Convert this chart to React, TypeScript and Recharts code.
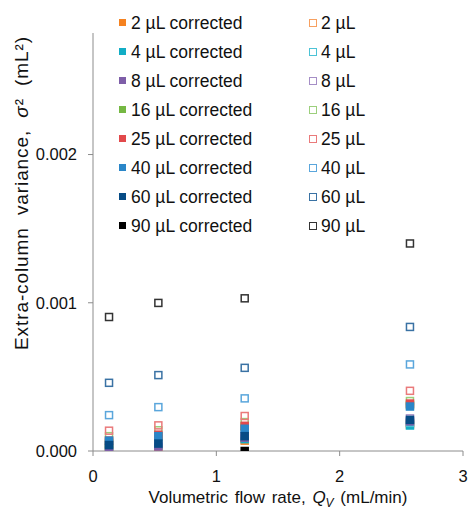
import React from "react";
import { ScatterChart, Scatter, XAxis, YAxis } from "recharts";

// Flow rates (mL/min) at which each injection volume was measured
const flowRates = [0.13, 0.53, 1.23, 2.57];

// Measured extra-column variance (mL²), uncorrected
const v2 = [0.00002, 0.00004, 0.00008, 0.00019];
const v4 = [0.00004, 0.00006, 0.0001, 0.00019];
const v8 = [0.00006, 0.00008, 0.00012, 0.00022];
const v16 = [0.0001, 0.00014, 0.000195, 0.000337];
const v25 = [0.000137, 0.000173, 0.000236, 0.000406];
const v40 = [0.000242, 0.000296, 0.000355, 0.000584];
const v60 = [0.00046, 0.000512, 0.000561, 0.000837];
const v90 = [0.000904, 0.000999, 0.00103, 0.0014];

// Corrected variance (mL²)
const c2 = [0.0, 0.00003, 0.00007, 0.00018];
const c4 = [0.00001, 0.00004, 0.00008, 0.000172];
const c8 = [0.00002, 0.00003, 0.00009, 0.0002];
const c16 = [0.00005, 0.0001, 0.000165, 0.00031];
const c25 = [0.00007, 0.00011, 0.00017, 0.00032];
const c40 = [0.00007, 0.0001, 0.00015, 0.0003];
const c60 = [0.00004, 0.00005, 0.0001, 0.00021];
const c90 = [null, null, 0.0, null];

const volumes = ["2", "4", "8", "16", "25", "40", "60", "90"];
const corrected = [c2, c4, c8, c16, c25, c40, c60, c90];
const measured = [v2, v4, v8, v16, v25, v40, v60, v90];
const fillColors = ["#f58220", "#12adc5", "#7e5ea8", "#75b843", "#e2494b", "#2a86c8", "#064b85", "#000000"];
const strokeColors = ["#f7a060", "#4cc3d6", "#a58ec6", "#9ccf7c", "#ea7a7b", "#5aa6dc", "#3a72a4", "#333333"];

const xTicks = [0, 1, 2, 3];
const yTicks = [0, 0.001, 0.002];

const toPoints = (vals: (number | null)[]) =>
  flowRates
    .map((x, i) => ({ x, y: vals[i] }))
    .filter((p) => p.y !== null);

const FONT = "'Liberation Sans', Arial, sans-serif";

const filledSquare = (color: string) => (props: any) => {
  const { cx, cy } = props;
  return <rect x={cx - 4.25} y={cy - 4.25} width={8.5} height={8.5} fill={color} />;
};

const openSquare = (color: string) => (props: any) => {
  const { cx, cy } = props;
  return (
    <rect x={cx - 3.5} y={cy - 3.5} width={7} height={7} fill="none" stroke={color} strokeWidth={1.5} />
  );
};

// Two-column key: corrected series on the left, raw series on the right
const LegendGrid = () => (
  <div
    style={{
      position: "absolute",
      left: 0,
      top: 0,
      width: 469,
      height: 240,
      fontFamily: FONT,
      fontSize: 17.5,
      color: "#111",
      pointerEvents: "none",
    }}
  >
    {volumes.map((v, i) => (
      <React.Fragment key={v}>
        <div style={{ position: "absolute", left: 119, top: 22.7 + i * 29 - 3.5, width: 7, height: 7, background: fillColors[i] }} />
        <div style={{ position: "absolute", left: 131, top: 22.7 + i * 29 - 11, lineHeight: "22px", whiteSpace: "nowrap" }}>
          {v} µL corrected
        </div>
        <div
          style={{
            position: "absolute",
            left: 309,
            top: 22.7 + i * 29 - 3.5,
            width: 6,
            height: 6,
            border: `1.2px solid ${strokeColors[i]}`,
            boxSizing: "content-box",
          }}
        />
        <div style={{ position: "absolute", left: 321, top: 22.7 + i * 29 - 11, lineHeight: "22px", whiteSpace: "nowrap" }}>
          {v} µL
        </div>
      </React.Fragment>
    ))}
  </div>
);

const YTitle = () => {
  const cx = 21;
  const cy = 193;
  return (
    <text
      x={cx}
      y={cy}
      transform={`rotate(-90, ${cx}, ${cy})`}
      textAnchor="middle"
      dominantBaseline="central"
      fontFamily={FONT}
      fontSize={19}
      letterSpacing={0.9}
      wordSpacing={6}
      fill="#111"
    >
      Extra-column variance, <tspan fontStyle="italic">σ</tspan>² (mL²)
    </text>
  );
};

const XTitle = (props: any) => {
  const vb = props.viewBox || {};
  const cx = vb.x + vb.width / 2;
  const cy = 503;
  return (
    <text x={cx} y={cy} textAnchor="middle" fontFamily={FONT} fontSize={17} wordSpacing={2} fill="#111">
      Volumetric flow rate, <tspan fontStyle="italic">Q</tspan>
      <tspan fontStyle="italic" fontSize={12} dy={4}>V</tspan>
      <tspan dy={-4}> (mL/min)</tspan>
    </text>
  );
};

export default function App() {
  const series: any[] = [];
  volumes.forEach((v, i) => {
    series.push(
      <Scatter
        key={`c${v}`}
        name={`${v} µL corrected`}
        data={toPoints(corrected[i])}
        dataKey="y"
        shape={filledSquare(fillColors[i])}
        isAnimationActive={false}
      />
    );
    series.push(
      <Scatter
        key={`m${v}`}
        name={`${v} µL`}
        data={toPoints(measured[i])}
        dataKey="y"
        shape={openSquare(strokeColors[i])}
        isAnimationActive={false}
      />
    );
  });

  return (
    <div style={{ position: "absolute", left: 0, top: 0, width: 469, height: 511, background: "#fff" }}>
      <ScatterChart width={469} height={511} margin={{ top: 33, right: 6, bottom: 10, left: 33 }}>
        <XAxis
          type="number"
          dataKey="x"
          domain={[0, 3]}
          ticks={xTicks}
          height={50}
          tickSize={5}
          tickMargin={14}
          stroke="#8c8c8c"
          tick={{ fill: "#111", fontSize: 16.5, fontFamily: FONT }}
          label={<XTitle />}
        />
        <YAxis
          type="number"
          dataKey="y"
          domain={[0, 0.00282]}
          ticks={yTicks}
          width={60}
          tickSize={5}
          tickMargin={11}
          stroke="#8c8c8c"
          tickFormatter={(t: number) => t.toFixed(3)}
          tick={{ fill: "#111", fontSize: 16.5, fontFamily: FONT }}
          label={<YTitle />}
          allowDataOverflow
        />
        {series}
      </ScatterChart>
      <LegendGrid />
    </div>
  );
}
